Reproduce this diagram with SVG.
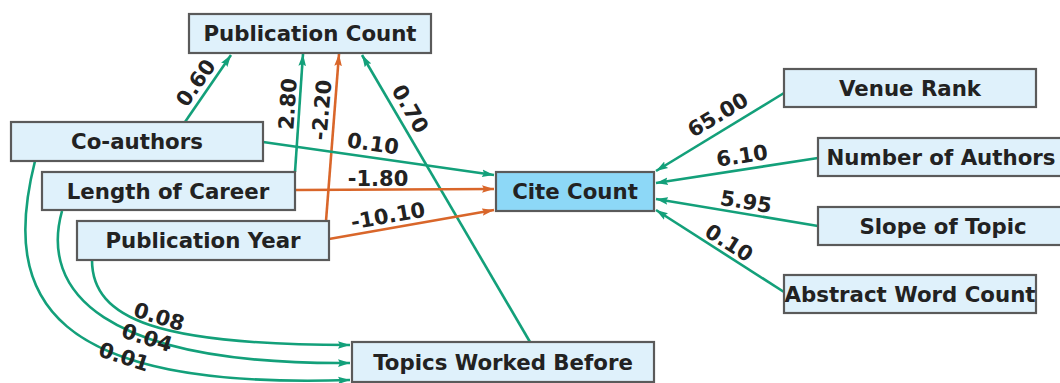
<svg xmlns="http://www.w3.org/2000/svg" width="1060" height="383" viewBox="0 0 1060 383">
<style>
.node rect{fill:#dff1fb;stroke:#5a5a5a;stroke-width:2.2}
#cite rect{fill:#8dd8f7}
.node text{font-family:"DejaVu Sans",sans-serif;font-weight:bold;font-size:21.3px;fill:#222;text-anchor:middle}
.e{fill:none;stroke-width:2.6}
.g{stroke:#13a07a;marker-end:url(#ag)}
.o{stroke:#d9662a;marker-end:url(#ao)}
.lbl{font-family:"DejaVu Sans",sans-serif;font-weight:bold;font-size:21px;fill:#222;text-anchor:middle;dominant-baseline:central}
</style>
<defs>
<marker id="ag" markerUnits="userSpaceOnUse" markerWidth="13" markerHeight="9" refX="12" refY="4.5" orient="auto"><path d="M0,0.7 L12,4.5 L0,8.3 L2,4.5 z" fill="#13a07a"/></marker>
<marker id="ao" markerUnits="userSpaceOnUse" markerWidth="13" markerHeight="9" refX="12" refY="4.5" orient="auto"><path d="M0,0.7 L12,4.5 L0,8.3 L2,4.5 z" fill="#d9662a"/></marker>
</defs>
<g id="connectors">
<path class="e g" d="M185,122 L231,55"/>
<path class="e g" d="M295,172 L303,54"/>
<path class="e o" d="M326,221 L339,54"/>
<path class="e g" d="M530,342 L362,55"/>
<path class="e g" d="M263,142 L494,175"/>
<path class="e o" d="M295,190 L494,189"/>
<path class="e o" d="M329,239 L494,210"/>
<path class="e g" d="M784,93 L656,171"/>
<path class="e g" d="M818,158 L656,183"/>
<path class="e g" d="M818,226 L656,199"/>
<path class="e g" d="M784,292 L656,210"/>
<path class="e g" d="M92,260 C92,320 160,345 350,345"/>
<path class="e g" d="M62,211 C40,290 100,365 350,363"/>
<path class="e g" d="M35,161 C0,300 50,390 350,380"/>
<text class="lbl" transform="translate(196,83) rotate(-55)">0.60</text>
<text class="lbl" transform="translate(288,104) rotate(-86)">2.80</text>
<text class="lbl" transform="translate(322,110) rotate(-85)">-2.20</text>
<text class="lbl" transform="translate(410,109) rotate(60)">0.70</text>
<text class="lbl" transform="translate(373,144) rotate(8)">0.10</text>
<text class="lbl" transform="translate(378,179)">-1.80</text>
<text class="lbl" transform="translate(388,216) rotate(-10)">-10.10</text>
<text class="lbl" transform="translate(718,115) rotate(-31)">65.00</text>
<text class="lbl" transform="translate(742,156) rotate(-8.7)">6.10</text>
<text class="lbl" transform="translate(746,202) rotate(9.4)">5.95</text>
<text class="lbl" transform="translate(729,243) rotate(32)">0.10</text>
<text class="lbl" transform="translate(159,317) rotate(17)">0.08</text>
<text class="lbl" transform="translate(147,338) rotate(17)">0.04</text>
<text class="lbl" transform="translate(124,357) rotate(18)">0.01</text>
</g>
<g id="pubcount" class="node"><rect x="189" y="14" width="242" height="39"/><text x="310" y="41">Publication Count</text></g>
<g id="coauthors" class="node"><rect x="11" y="122" width="252" height="39"/><text x="137" y="149">Co-authors</text></g>
<g id="career" class="node"><rect x="42" y="172" width="253" height="38"/><text x="168" y="198.5">Length of Career</text></g>
<g id="pubyear" class="node"><rect x="77" y="221" width="252" height="39"/><text x="203" y="248">Publication Year</text></g>
<g id="topics" class="node"><rect x="352" y="342" width="302" height="40"/><text x="503" y="369.5">Topics Worked Before</text></g>
<g id="cite" class="node"><rect x="496" y="172" width="158" height="39"/><text x="575" y="199">Cite Count</text></g>
<g id="venue" class="node"><rect x="784" y="69" width="252" height="38"/><text x="910" y="95.5">Venue Rank</text></g>
<g id="nauthors" class="node"><rect x="818" y="138" width="246" height="38"/><text x="941" y="164.5">Number of Authors</text></g>
<g id="slope" class="node"><rect x="818" y="207" width="250" height="38"/><text x="943" y="233.5">Slope of Topic</text></g>
<g id="abstract" class="node"><rect x="784" y="275" width="252" height="38"/><text x="910" y="301.5">Abstract Word Count</text></g>
</svg>
